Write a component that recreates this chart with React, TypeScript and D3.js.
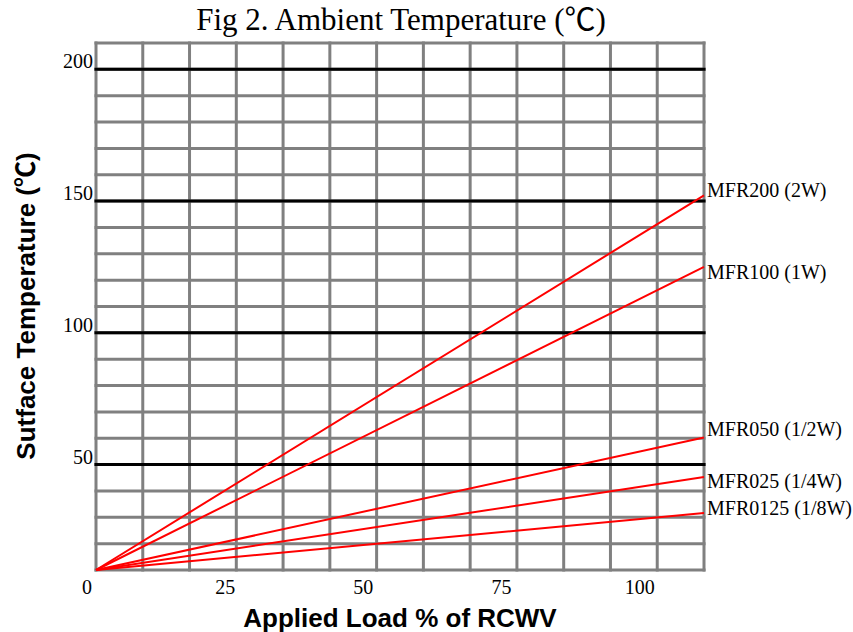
import React from "react";
import * as d3 from "d3";

// ---- data ----
const titleText = "Fig 2. Ambient Temperature (℃)";
const xTitle = "Applied Load % of RCWV";
const yTitle = "Sutface Temperature (℃)";
const xTicks = [0, 25, 50, 75, 100];
const yTicks = [50, 100, 150, 200];
const xDomain = [0, 110];
const yDomain = [10, 210];
const gridColumns = 13;
const yMinorStep = 10;
const loadPoints = [0, 110];
const seriesNames = ["MFR200 (2W)", "MFR100 (1W)", "MFR050 (1/2W)", "MFR025 (1/4W)", "MFR0125 (1/8W)"];
const mfr200 = [10, 152.2];
const mfr100 = [10, 125.0];
const mfr050 = [10, 60.3];
const mfr025 = [10, 45.3];
const mfr0125 = [10, 31.6];
const seriesValues = [mfr200, mfr100, mfr050, mfr025, mfr0125];
// label baseline offsets relative to line end (style)
const labelDy = [2, 12, -1, 11, 2];

const W = 853;
const H = 632;
const left = 96;
const right = 704;
const top = 43;
const bottom = 570;

export default function App() {
  const x = d3.scaleLinear().domain(xDomain).range([left, right]);
  const y = d3.scaleLinear().domain(yDomain).range([bottom, top]);
  const colX = d3.scaleLinear().domain([0, gridColumns]).range([left, right]);
  const vLines = d3.range(0, gridColumns + 1);
  const hLines = d3.range(yDomain[0], yDomain[1] + 0.001, yMinorStep);
  const line = d3
    .line<number>()
    .x((_, i) => x(loadPoints[i]))
    .y((d) => y(d));

  const serif = "'Liberation Serif', 'Times New Roman', 'Noto Sans CJK TC', serif";
  const sans = "'Liberation Sans', Arial, 'Noto Sans CJK TC', sans-serif";

  return (
    <svg
      width={W}
      height={H}
      style={{ position: "absolute", left: 0, top: 0, background: "#fff" }}
    >
      <rect x={0} y={0} width={W} height={H} fill="#fff" />
      {/* gray grid */}
      <g stroke="#808080" strokeWidth={3}>
        {vLines.map((i) => (
          <line key={"v" + i} x1={colX(i)} x2={colX(i)} y1={top - 1.5} y2={bottom + 1.5} />
        ))}
        {hLines.map((v) => (
          <line key={"h" + v} x1={left - 1.5} x2={right + 1.5} y1={y(v)} y2={y(v)} />
        ))}
      </g>
      {/* black major lines */}
      <g stroke="#000" strokeWidth={3}>
        {yTicks.map((v) => (
          <line key={"b" + v} x1={left - 1.5} x2={right + 1.5} y1={y(v)} y2={y(v)} />
        ))}
      </g>
      {/* y tick labels */}
      <g fontFamily={serif} fontSize={20} fill="#000" textAnchor="end">
        {yTicks.map((v) => (
          <text key={"yt" + v} x={left - 3} y={y(v) - 1}>
            {v}
          </text>
        ))}
      </g>
      {/* x tick labels */}
      <g fontFamily={serif} fontSize={20} fill="#000" textAnchor="middle">
        {xTicks.map((v) => (
          <text key={"xt" + v} x={x(v) - 9} y={bottom + 24}>
            {v}
          </text>
        ))}
      </g>
      {/* series lines */}
      <g fill="none" stroke="#ff0000" strokeWidth={2}>
        {seriesValues.map((vals, i) => (
          <path key={"s" + i} d={line(vals) || ""} />
        ))}
      </g>
      {/* series labels */}
      <g fontFamily={serif} fontSize={20} fill="#000">
        {seriesValues.map((vals, i) => (
          <text key={"l" + i} x={right + 3} y={y(vals[vals.length - 1]) + labelDy[i]}>
            {seriesNames[i]}
          </text>
        ))}
      </g>
      {/* title */}
      <text x={401} y={30} textAnchor="middle" fontFamily={serif} fontSize={31} fill="#000">
        {titleText}
      </text>
      {/* x axis title */}
      <text x={400} y={627} textAnchor="middle" fontFamily={sans} fontWeight="bold" fontSize={26} fill="#000">
        {xTitle}
      </text>
      {/* y axis title */}
      <text
        transform={`translate(35,306) rotate(-90)`}
        textAnchor="middle"
        fontFamily={sans}
        fontWeight="bold"
        fontSize={26}
        fill="#000"
      >
        {yTitle}
      </text>
    </svg>
  );
}
